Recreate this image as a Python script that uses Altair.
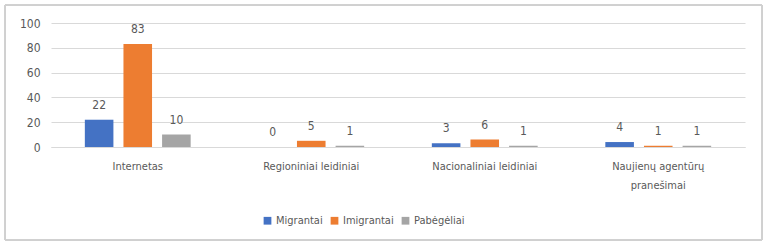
import altair as alt
import pandas as pd

categories = ["Internetas", "Regioniniai leidiniai", "Nacionaliniai leidiniai", "Naujienų agentūrų pranešimai"]
series = ["Migrantai", "Imigrantai", "Pabėgėliai"]
migrantai = [22, 0, 3, 4]
imigrantai = [83, 5, 6, 1]
pabegeliai = [10, 1, 1, 1]
colors = ["#4472C4", "#ED7D31", "#A5A5A5"]

rows = []
for s, vals in zip(series, [migrantai, imigrantai, pabegeliai]):
    for c, v in zip(categories, vals):
        rows.append({"cat": c, "series": s, "value": v})
df = pd.DataFrame(rows)

FONT = "DejaVu Sans Condensed"
TXT = "#595959"
FS = 11
NFS = 12

x = alt.X("cat:N", sort=categories, title=None,
          scale=alt.Scale(paddingInner=0.39, paddingOuter=0.195),
          axis=alt.Axis(labelAngle=0, labelPadding=13, ticks=False, domain=True,
                        domainColor="#D9D9D9", labelFont=FONT, labelFontSize=FS,
                        labelColor=TXT, labelLimit=200, labelLineHeight=19,
                        labelExpr="datum.value == 'Naujienų agentūrų pranešimai' ? ['Naujienų agentūrų', 'pranešimai'] : datum.value"))
xo = alt.XOffset("series:N", sort=series,
                 scale=alt.Scale(paddingInner=0.26, paddingOuter=0))
y = alt.Y("value:Q", title=None,
          scale=alt.Scale(domain=[0, 100]),
          axis=alt.Axis(values=[0, 20, 40, 60, 80, 100], ticks=False, domain=False,
                        gridColor="#D9D9D9", labelPadding=11, labelFont=FONT,
                        labelFontSize=NFS, labelColor=TXT))
color = alt.Color("series:N", sort=series,
                  scale=alt.Scale(domain=series, range=colors),
                  legend=alt.Legend(title=None, orient="none", direction="horizontal",
                                    legendX=211, legendY=192, symbolType="square",
                                    symbolSize=60, symbolStrokeWidth=0,
                                    labelFont=FONT, labelFontSize=FS, labelColor=TXT,
                                    columnPadding=6, labelOffset=3))

base = alt.Chart(df)
bars = base.mark_bar().encode(x=x, xOffset=xo, y=y, color=color)
labels = base.mark_text(dy=-15, font=FONT, fontSize=NFS, color=TXT).encode(
    x=x, xOffset=xo, y=y, text="value:Q")
border = base.mark_rect(fill=None, stroke="#D0D0D0", strokeWidth=1, clip=False).encode(
    x=alt.value(-46), x2=alt.value(711), y=alt.value(-18), y2=alt.value(217))

chart = alt.layer(bars, labels, border).properties(
    width=694, height=124,
    autosize=alt.AutoSizeParams(type="none"),
    padding={"left": 51, "top": 23, "right": 23, "bottom": 100},
    background="white",
).configure_view(stroke=None)

chart.save("out.html", embed_options={"renderer": "svg", "actions": False})
